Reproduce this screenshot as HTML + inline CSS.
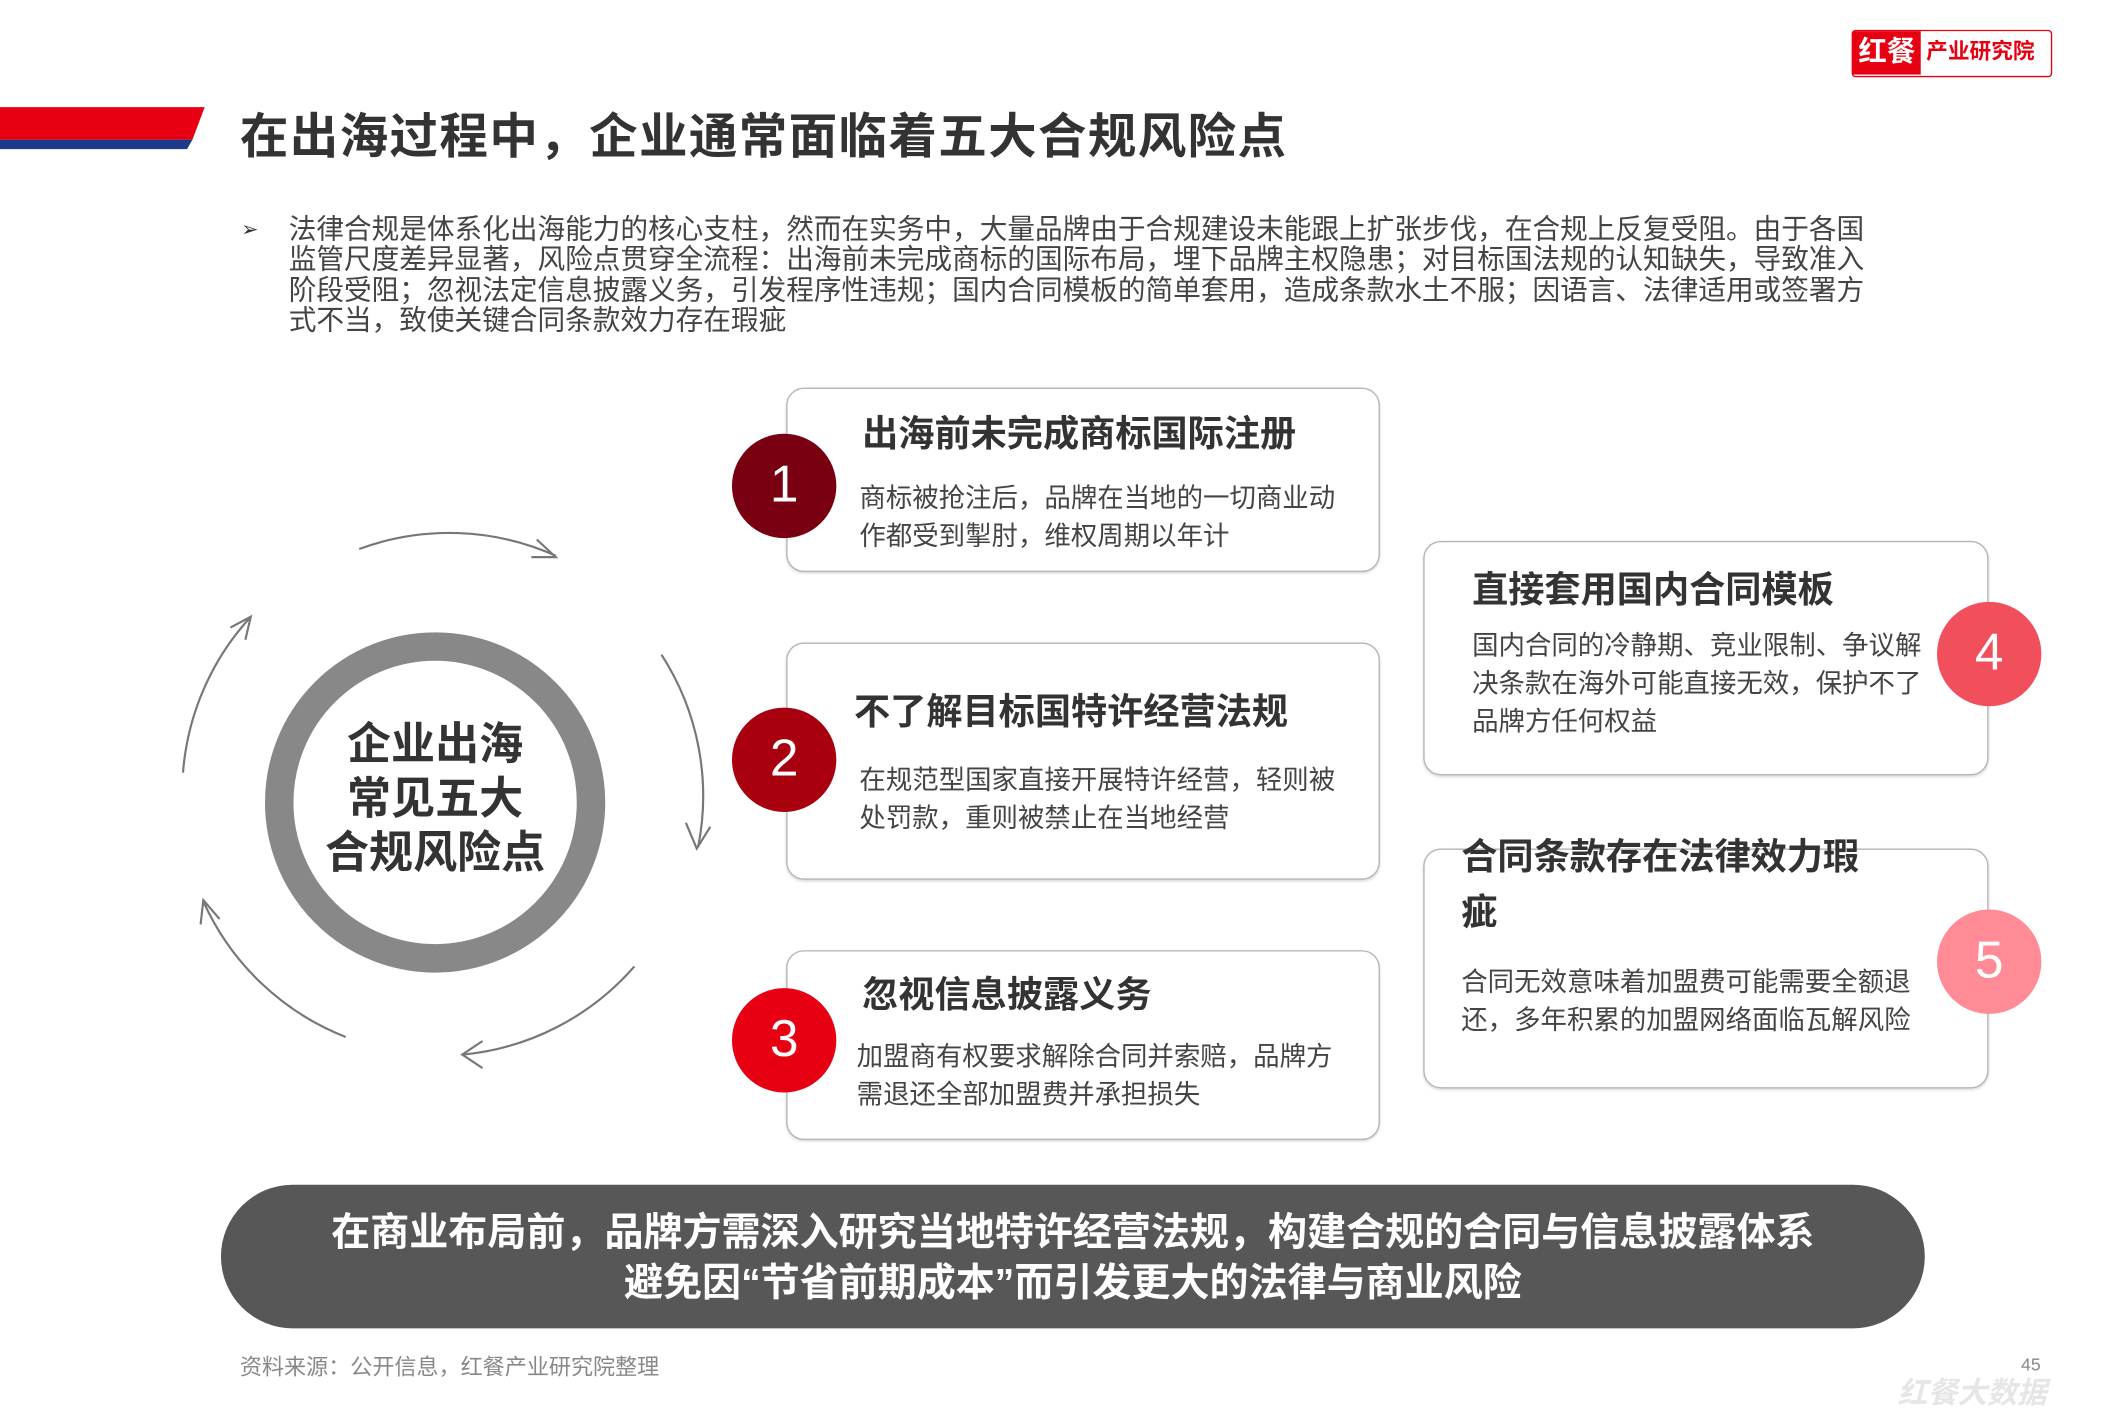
<!DOCTYPE html>
<html><head><meta charset="utf-8"><style>
html,body{margin:0;padding:0;background:#fff;overflow:hidden}
body{width:2126px;height:1418px;position:relative;font-family:"Liberation Sans","Noto Sans CJK SC",sans-serif}
#s{position:absolute;left:0;top:0;width:1568px;height:1046px;transform:scale(1.3555);transform-origin:0 0}
.a{position:absolute;white-space:nowrap}
.box{position:absolute;border:1.5px solid #b5b5b5;border-radius:13px;background:#fff;box-shadow:0 1px 2px rgba(0,0,0,.15)}
.t{position:absolute;font-weight:bold;font-size:26.7px;color:#333;white-space:nowrap}
.b{position:absolute;font-size:19.5px;color:#444;line-height:28px;white-space:nowrap}
.c{position:absolute;width:77px;height:77px;border-radius:50%;color:#fff;font-size:38px;text-align:center;line-height:77px}
</style></head><body><div id="s">
<svg class="a" style="left:0;top:0" width="1568" height="1046">
<polygon points="0,79 151,79 142,103 0,103" fill="#e60012"/>
<polygon points="0,103 142,103 138,110 0,110" fill="#1d3a8a"/>
<circle cx="321" cy="592" r="115" fill="none" stroke="#888" stroke-width="21"/>
<g fill="none" stroke="#777" stroke-width="1.6">
<path d="M265,405 A192,192 0 0 1 410,410"/>
<path d="M396,398 L410,411 L392,411"/>
<path d="M488,483 A192,192 0 0 1 515,625"/>
<path d="M506,607 L514,626 L524,610"/>
<path d="M468,713 A192,192 0 0 1 342,778"/>
<path d="M356,768 L341,778 L356,788"/>
<path d="M255,765 A192,192 0 0 1 150,665"/>
<path d="M148,682 L150,664 L162,678"/>
<path d="M135,570 A192,192 0 0 1 185,455"/>
<path d="M170,463 L185,455 L181,472"/>
</g>
</svg>
<div class="a" style="left:177px;top:72px;font-size:35.8px;font-weight:bold;color:#333;letter-spacing:1px">在出海过程中，企业通常面临着五大合规风险点</div>
<div class="a" style="left:1366px;top:22px;width:148px;height:35px;border:1.5px solid #e60012;box-sizing:border-box;border-radius:3px;background:#fff">
<div class="a" style="left:0;top:0;width:50px;height:32px;background:#e60012;color:#fff;font-weight:bold;font-size:21px;line-height:32px;text-align:center">红餐</div>
<div class="a" style="left:54px;top:0;font-size:16px;font-weight:bold;color:#e60012;line-height:32px">产业研究院</div></div>
<div class="a" style="left:178px;top:160px;font-size:15px;color:#333">➢</div>
<div class="a" style="left:213px;top:159px;font-size:20.4px;color:#444;line-height:22.3px">法律合规是体系化出海能力的核心支柱，然而在实务中，大量品牌由于合规建设未能跟上扩张步伐，在合规上反复受阻。由于各国<br>监管尺度差异显著，风险点贯穿全流程：出海前未完成商标的国际布局，埋下品牌主权隐患；对目标国法规的认知缺失，导致准入<br>阶段受阻；忽视法定信息披露义务，引发程序性违规；国内合同模板的简单套用，造成条款水土不服；因语言、法律适用或签署方<br>式不当，致使关键合同条款效力存在瑕疵</div>
<div class="a" style="left:171px;top:529px;width:300px;text-align:center;font-size:32.5px;font-weight:bold;color:#333;line-height:40px">企业出海<br>常见五大<br>合规风险点</div>

<div class="box" style="left:580px;top:286px;width:436px;height:134px"></div>
<div class="t" style="left:636px;top:298px">出海前未完成商标国际注册</div>
<div class="b" style="left:634px;top:354px">商标被抢注后，品牌在当地的一切商业动<br>作都受到掣肘，维权周期以年计</div>
<div class="c" style="left:540px;top:320px;background:#780010">1</div>

<div class="box" style="left:580px;top:474px;width:436px;height:173px"></div>
<div class="t" style="left:630px;top:503px">不了解目标国特许经营法规</div>
<div class="b" style="left:634px;top:562px">在规范型国家直接开展特许经营，轻则被<br>处罚款，重则被禁止在当地经营</div>
<div class="c" style="left:540px;top:522px;background:#a8000f">2</div>

<div class="box" style="left:580px;top:701px;width:436px;height:138px"></div>
<div class="t" style="left:636px;top:712px">忽视信息披露义务</div>
<div class="b" style="left:632px;top:766px">加盟商有权要求解除合同并索赔，品牌方<br>需退还全部加盟费并承担损失</div>
<div class="c" style="left:540px;top:729px;background:#e60012">3</div>

<div class="box" style="left:1050px;top:399px;width:415px;height:171px"></div>
<div class="t" style="left:1086px;top:413px">直接套用国内合同模板</div>
<div class="b" style="left:1086px;top:463px">国内合同的冷静期、竞业限制、争议解<br>决条款在海外可能直接无效，保护不了<br>品牌方任何权益</div>
<div class="c" style="left:1429px;top:444px;background:#f14f5c">4</div>

<div class="box" style="left:1050px;top:626px;width:415px;height:175px"></div>
<div class="t" style="left:1078px;top:612px;line-height:41px">合同条款存在法律效力瑕<br>疵</div>
<div class="b" style="left:1078px;top:711px">合同无效意味着加盟费可能需要全额退<br>还，多年积累的加盟网络面临瓦解风险</div>
<div class="c" style="left:1429px;top:671px;background:#ff8b96">5</div>

<div class="a" style="left:163px;top:874px;width:1257px;height:106px;border-radius:53px;background:#575757"></div>
<div class="a" style="left:163px;top:892px;width:1257px;text-align:center;color:#fff;font-size:28.8px;font-weight:bold;line-height:37px">在商业布局前，品牌方需深入研究当地特许经营法规，构建合规的合同与信息披露体系<br>避免因“节省前期成本”而引发更大的法律与商业风险</div>
<div class="a" style="left:177px;top:995px;font-size:16.3px;color:#888">资料来源：公开信息，红餐产业研究院整理</div>
<div class="a" style="left:1491px;top:999px;font-size:13px;color:#888">45</div>
<div class="a" style="left:1400px;top:1010px;font-size:22px;font-style:italic;font-weight:bold;color:#e6e6e6">红餐大数据</div>
</div></body></html>
